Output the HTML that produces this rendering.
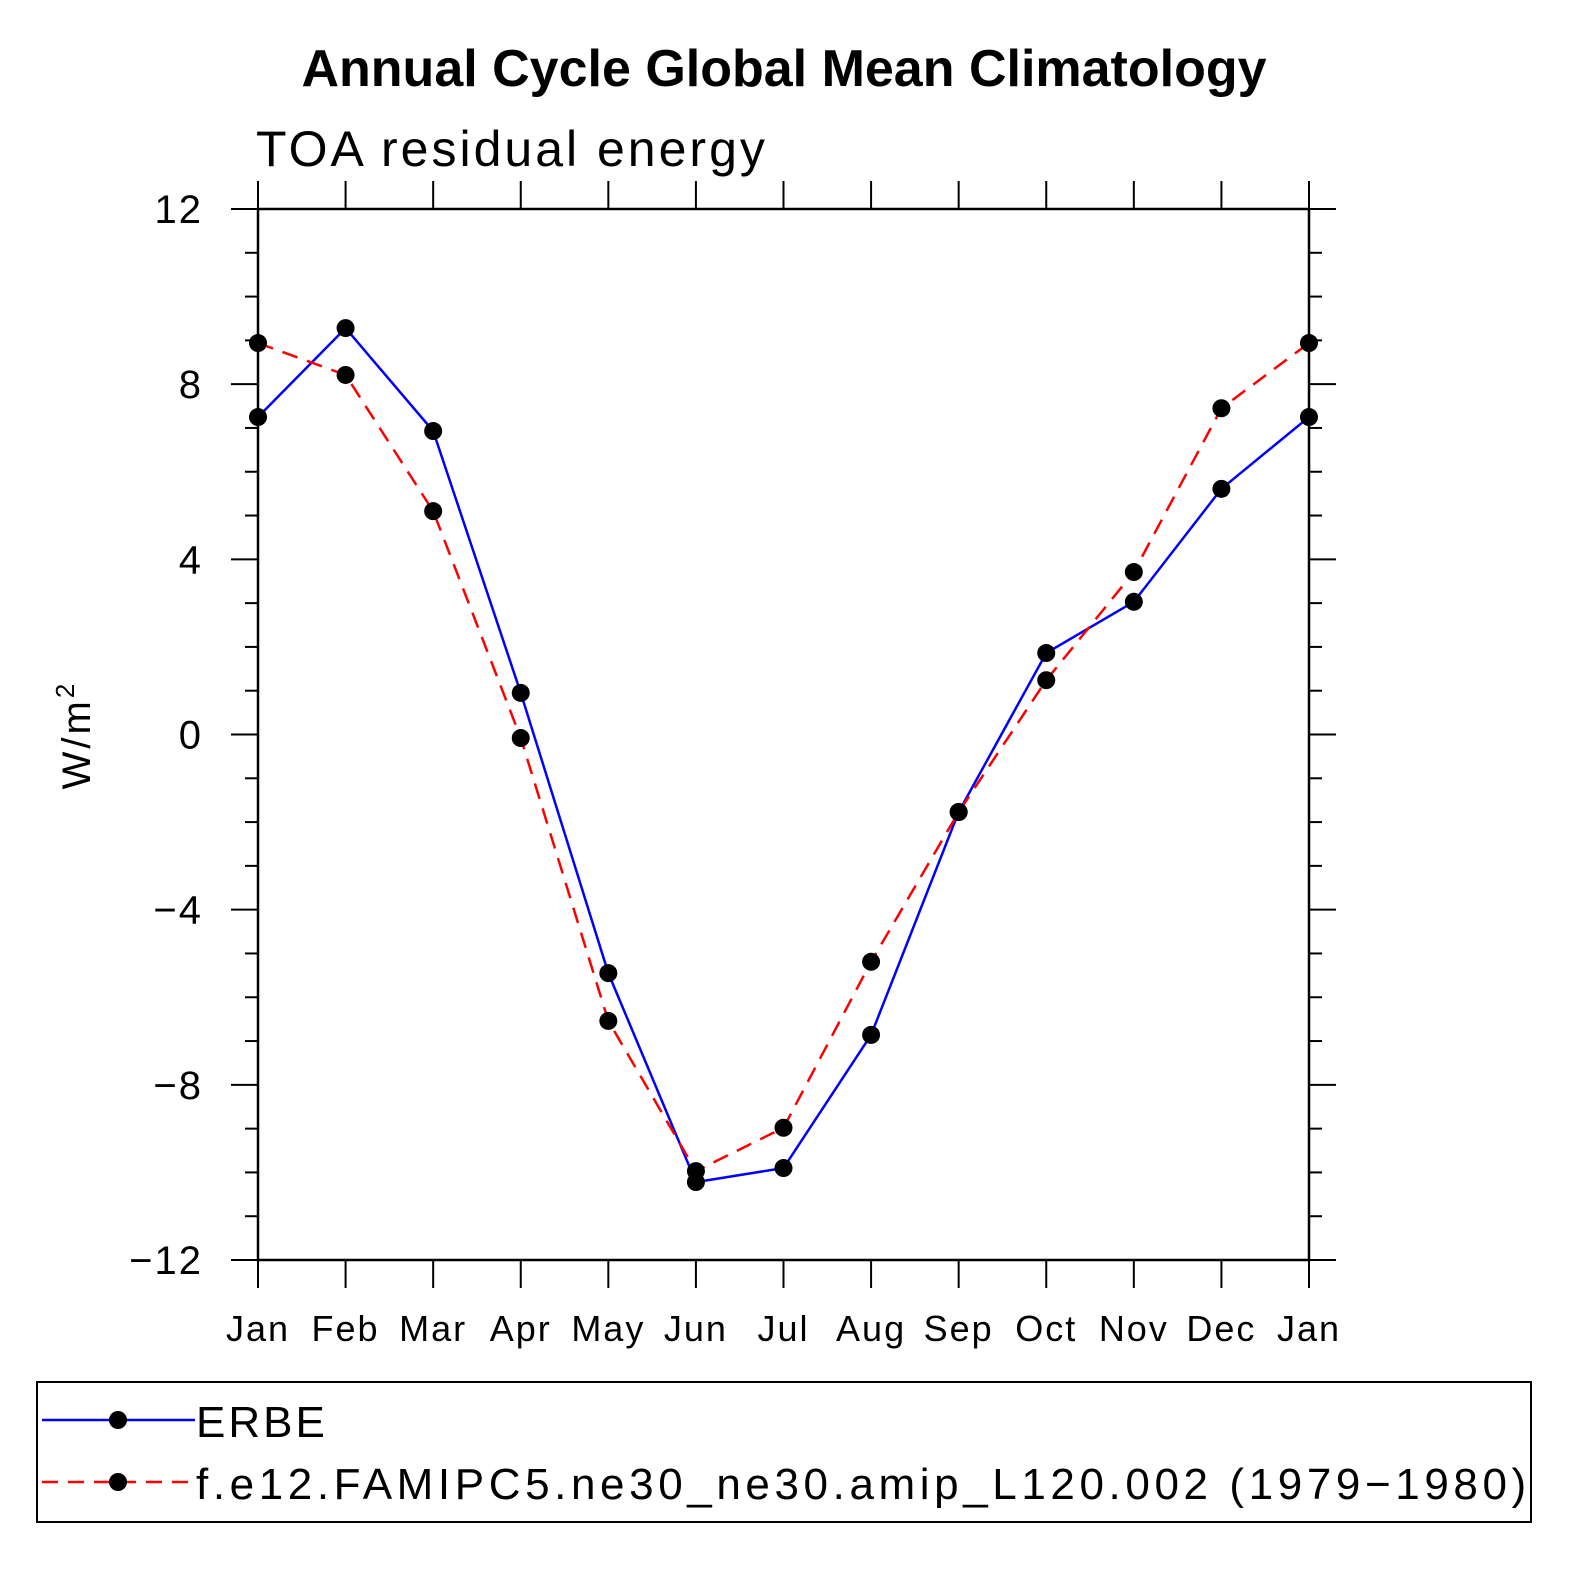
<!DOCTYPE html>
<html><head><meta charset="utf-8"><style>body{margin:0;background:#fff}svg{display:block}</style></head>
<body>
<svg id="chart" width="1575" height="1575" xmlns="http://www.w3.org/2000/svg" font-family="Liberation Sans, sans-serif">
<text x="784" y="86" text-anchor="middle" font-size="52" font-weight="bold">Annual Cycle Global Mean Climatology</text>
<text x="256" y="166" font-size="50" font-weight="300" letter-spacing="3">TOA residual energy</text>
<text transform="translate(90,735) rotate(-90)" text-anchor="middle" font-size="40" letter-spacing="3">W/m<tspan dy="-16" font-size="26">2</tspan></text>
<rect x="258" y="209" width="1051" height="1051" fill="none" stroke="#000" stroke-width="2.5"/>
<g id="axes"></g>
<g id="series"></g>
<rect x="37" y="1382" width="1494" height="140" fill="none" stroke="#000" stroke-width="2"/>
<g>
<line x1="42" y1="1420" x2="195" y2="1420" stroke="#0000ff" stroke-width="2.5"/>
<circle cx="118" cy="1420" r="9" fill="#000"/>
<text x="196" y="1437" font-size="44" letter-spacing="3">ERBE</text></g>
<g>
<line x1="42" y1="1482" x2="195" y2="1482" stroke="#ff0000" stroke-width="2.5" stroke-dasharray="16,10"/>
<circle cx="118" cy="1482" r="9" fill="#000"/>
<text x="196" y="1499" font-size="44" letter-spacing="4.6">f.e12.FAMIPC5.ne30_ne30.amip_L120.002 (1979−1980)</text></g>
</svg>
<script>
const months=["Jan","Feb","Mar","Apr","May","Jun","Jul","Aug","Sep","Oct","Nov","Dec","Jan"];
const erbe=[7.25,9.28,6.93,0.95,-5.45,-10.22,-9.9,-6.86,-1.77,1.86,3.03,5.61,7.25];
const model=[8.94,8.21,5.1,-0.08,-6.54,-9.97,-8.98,-5.19,-1.77,1.24,3.71,7.45,8.94];
const yTicks=[-12,-8,-4,0,4,8,12];
const NS="http://www.w3.org/2000/svg";
const x0=258,x1=1309,y0=209,y1=1260,ymin=-12,ymax=12;
const xs=i=>x0+i*(x1-x0)/(months.length-1);
const ys=v=>y1-(v-ymin)/(ymax-ymin)*(y1-y0);
function mk(t,a,p){const e=document.createElementNS(NS,t);for(const k in a)e.setAttribute(k,a[k]);p.appendChild(e);return e;}
const ax=document.getElementById('axes');
for(let v=ymin;v<=ymax;v++){
 const maj=v%4===0,y=ys(v),L=maj?27:13;
 const t1=mk('line',{x1:x0-L,x2:x0,y1:y,y2:y,stroke:'#000','stroke-width':2},ax);
 
 
 const t2=mk('line',{x1:x1,x2:x1+L,y1:y,y2:y,stroke:'#000','stroke-width':2},ax);
 
 
}
yTicks.forEach(v=>{
 const t=mk('text',{x:203,y:ys(v)+14,'text-anchor':'end','font-size':40,'font-weight':300,'letter-spacing':2},ax);
 t.textContent=(v<0?'−':'')+Math.abs(v);
 
 
});
months.forEach((m,i)=>{
 const x=xs(i);
 const a=mk('line',{x1:x,x2:x,y1:y1,y2:y1+28,stroke:'#000','stroke-width':2},ax);
 
 
 const b=mk('line',{x1:x,x2:x,y1:y0-28,y2:y0,stroke:'#000','stroke-width':2},ax);
 
 
 const t=mk('text',{x:x,y:1341,'text-anchor':'middle','font-size':36,'font-weight':300,'letter-spacing':2},ax);
 t.textContent=m;
 
 
});
const sg=document.getElementById('series');
function series(vals,color,dash,name){
 const p=mk('polyline',{points:vals.map((v,i)=>xs(i)+','+ys(v)).join(' '),fill:'none',stroke:color,'stroke-width':2.5},sg);
 if(dash)p.setAttribute('stroke-dasharray',dash);
 
 
 vals.forEach((v,i)=>{
  const c=mk('circle',{cx:xs(i),cy:ys(v),r:9,fill:'#000'},sg);
  
  
 });
}
series(erbe,'#0000ff',null,'erbe');
series(model,'#ff0000','16,10','model');
</script>
</body></html>
